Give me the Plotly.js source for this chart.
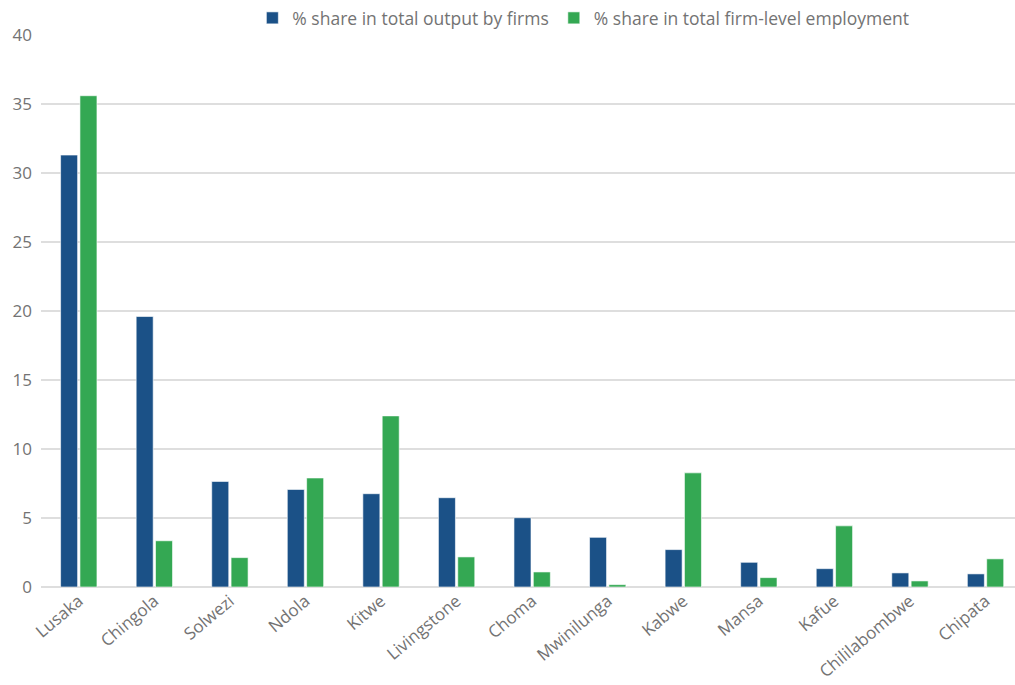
<!DOCTYPE html>
<html>
<head>
<meta charset="utf-8">
<script src="https://cdn.plot.ly/plotly-3.0.1.min.js"></script>
<style>html,body{margin:0;padding:0;background:#fff;}#chart{width:1015px;height:685px;}</style>
</head>
<body>
<div id="chart"></div>
<script>
const cities = ["Lusaka","Chingola","Solwezi","Ndola","Kitwe","Livingstone","Choma","Mwinilunga","Kabwe","Mansa","Kafue","Chililabombwe","Chipata"];
const outputShare = [31.3, 19.6, 7.65, 7.07, 6.76, 6.47, 5.02, 3.6, 2.71, 1.79, 1.33, 1.02, 0.95];
const employmentShare = [35.6, 3.35, 2.13, 7.9, 12.4, 2.18, 1.09, 0.17, 8.27, 0.68, 4.43, 0.44, 2.04];
const seriesNames = ["% share in total output by firms", "% share in total firm-level employment"];
const yTicks = [0,5,10,15,20,25,30,35,40];

const fontFam = "Open Sans, Noto Sans, sans-serif";
const grey = "#737373";

const traces = [
  {type:"bar", name:seriesNames[0], x:cities, y:outputShare,
   marker:{color:"#1b5187", line:{color:"rgba(255,255,255,0.6)", width:1}}},
  {type:"bar", name:seriesNames[1], x:cities, y:employmentShare,
   marker:{color:"#34a853", line:{color:"rgba(255,255,255,0.6)", width:1}}}
];

const layout = {
  width:1015, height:685,
  margin:{l:41, r:0, t:35, b:98},
  paper_bgcolor:"#ffffff", plot_bgcolor:"#ffffff",
  barmode:"group", bargap:0.488, bargroupgap:0.12,
  font:{family:fontFam, color:grey, size:17},
  showlegend:true,
  legend:{orientation:"h", x:0.217, xanchor:"left", y:1.031, yanchor:"middle",
          font:{family:fontFam, size:17.5, color:grey}, bgcolor:"rgba(0,0,0,0)", traceorder:"normal"},
  xaxis:{range:[-0.5, 12.39], tickangle:-40, showgrid:false, zeroline:false, showline:false,
         ticks:"", tickfont:{family:fontFam, size:17, color:grey}, fixedrange:true},
  yaxis:{range:[0,40], tickvals:yTicks, ticktext:yTicks.map(String), showgrid:true,
         gridcolor:"#dedede", gridwidth:2, zeroline:true, zerolinecolor:"#dedede", zerolinewidth:2,
         showline:false, ticks:"", ticklabelstandoff:8,
         tickfont:{family:fontFam, size:17, color:grey}, fixedrange:true}
};

Plotly.newPlot("chart", traces, layout, {displayModeBar:false, staticPlot:true});
</script>
</body>
</html>
